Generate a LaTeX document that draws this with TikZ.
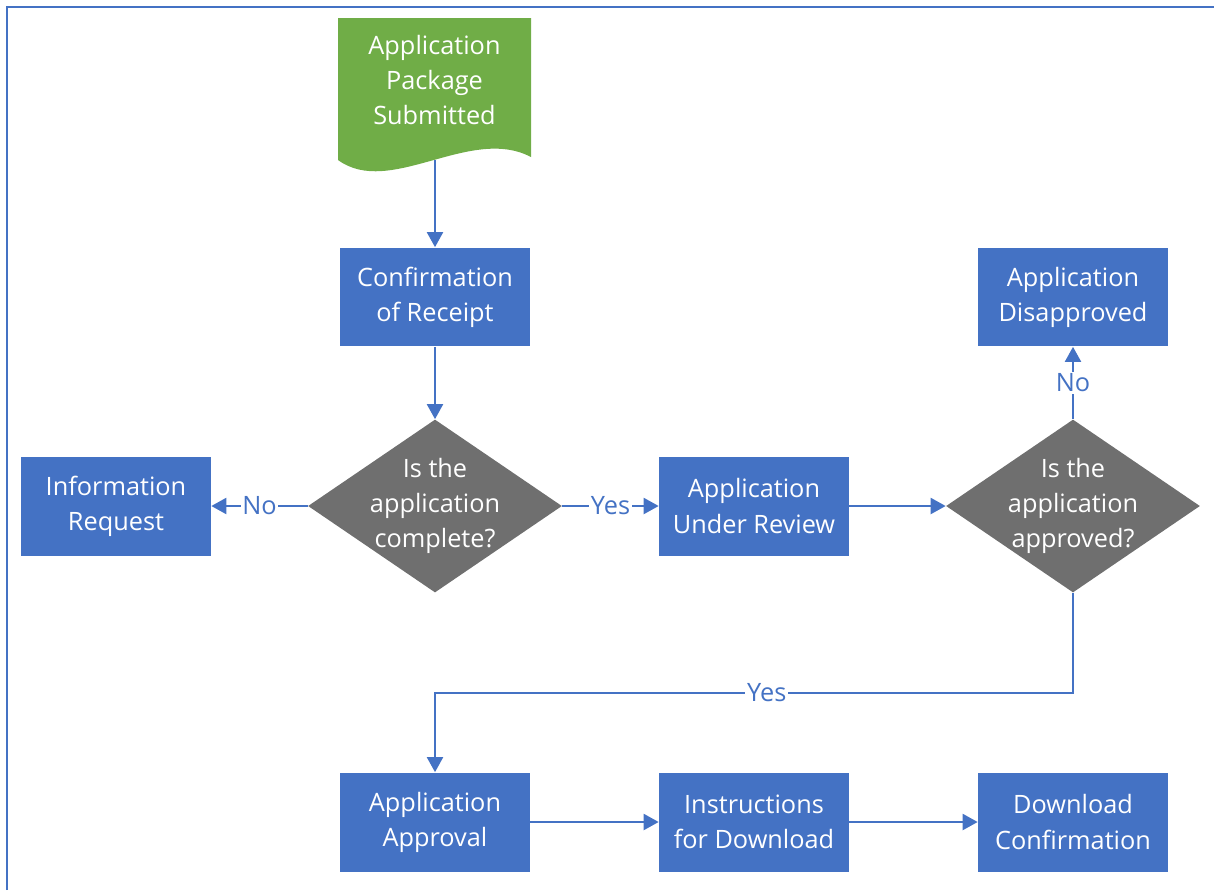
\documentclass[tikz,border=0pt]{standalone}
\usepackage{fontspec}
\setmainfont{Open Sans}
\usetikzlibrary{shapes.geometric,arrows.meta,positioning}
\definecolor{boxblue}{HTML}{4472C4}
\definecolor{docgreen}{HTML}{70AD47}
\definecolor{decgray}{HTML}{6F6F6F}

\begin{document}
\begin{tikzpicture}[x=0.02cm,y=-0.02cm,
      every node/.style={font=\fontsize{14.4}{20}\selectfont, align=center},
      proc/.style={rectangle, fill=boxblue, text=white, minimum width=3.8cm, minimum height=1.98cm, inner sep=0pt},
      dec/.style={diamond, fill=decgray, text=white, minimum width=5.08cm, minimum height=3.46cm, inner sep=-0.3cm},
      line/.style={draw=boxblue, line width=1.2pt},
      arrow/.style={line, -{Triangle[width=0.32cm,length=0.3cm]}},
      lbl/.style={text=boxblue, fill=white, inner sep=1pt}]
      \useasboundingbox (0,0) rectangle (1214,890);
      \draw[boxblue, line width=1.6pt] (7,890) -- (7,7) -- (1214,7);
      \fill[docgreen] (338,18) -- (531,18) -- (531,157)
         .. controls (470,125) and (390,198) .. (338,160) -- cycle;
      \node[text=white] (sub) at (434.5,80) {Application\\Package\\Submitted};
      \coordinate (subend) at (435,160);
      \node[proc] (conf) at (435,297) {Confirmation\\of Receipt};
      \node[dec] (compl) at (435,506) {Is the\\application\\complete?};
      \node[proc] (info) at (116,506) {Information\\Request};
      \node[proc] (review) at (754,506) {Application\\Under Review};
      \node[dec] (appr) at (1073,506) {Is the\\application\\approved?};
      \node[proc] (disappr) at (1073,297) {Application\\Disapproved};
      \node[proc] (approval) at (435,822) {Application\\Approval};
      \node[proc] (instr) at (754,822) {Instructions\\for Download};
      \node[proc] (dlconf) at (1073,822) {Download\\Confirmation};
      \coordinate (turn) at (1073,693);

      \draw[arrow] (subend) -- (conf);
      \draw[arrow] (conf) -- (compl);
      \draw[arrow] (compl) -- node[lbl]{No} (info);
      \draw[arrow] (compl) -- node[lbl]{Yes} (review);
      \draw[arrow] (review) -- (appr);
      \draw[arrow] (appr) -- node[lbl]{No} (disappr);
      \draw[arrow] (appr) -- (turn) -| node[lbl,pos=0.24]{Yes} (approval);
      \draw[arrow] (approval) -- (instr);
      \draw[arrow] (instr) -- (dlconf);
      \end{tikzpicture}
\end{document}
